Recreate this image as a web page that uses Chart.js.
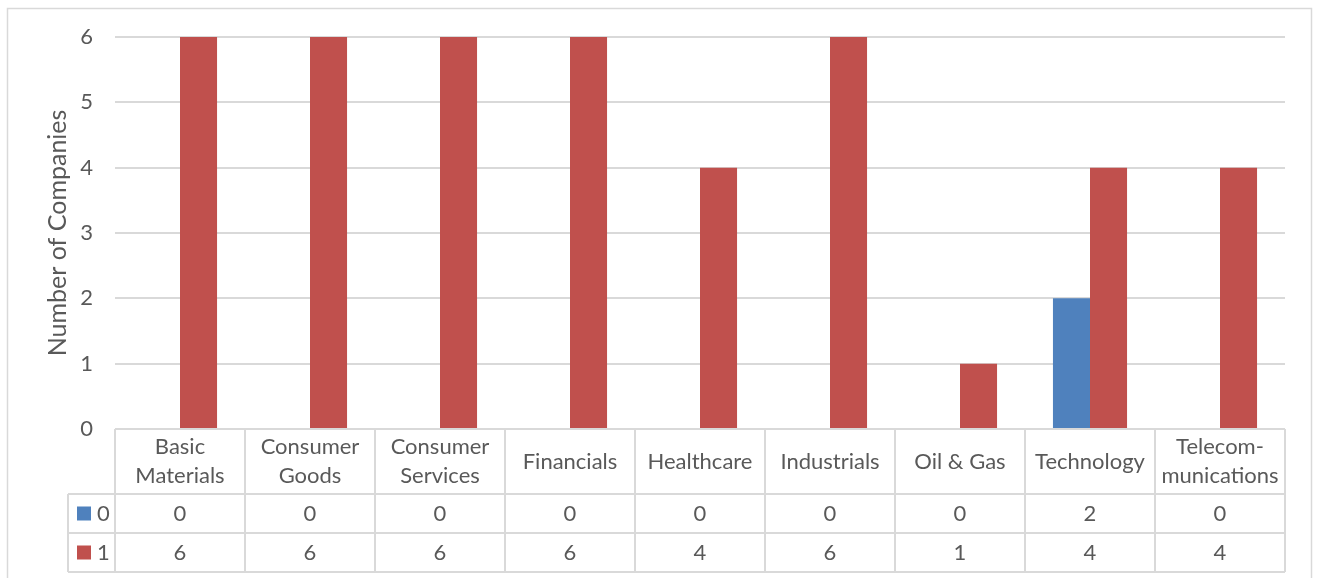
<!DOCTYPE html>
<html>
<head>
<meta charset="utf-8">
<title>Number of Companies by Sector</title>
<script src="https://cdn.jsdelivr.net/npm/chart.js@4.4.1/dist/chart.umd.min.js"></script>
<style>
  html, body { margin: 0; padding: 0; background: #ffffff; }
  #wrap { width: 1319px; height: 578px; position: relative; }
</style>
</head>
<body>
<div id="wrap"><canvas id="chartSectores"></canvas></div>
<script>
/* ============================================================
   Companies per sector — grouped bars + data table underneath
   ============================================================ */

// Header lines for each sector (the table's first row)
const SECTORS = [
  ['Basic', 'Materials'],
  ['Consumer', 'Goods'],
  ['Consumer', 'Services'],
  ['Financials'],
  ['Healthcare'],
  ['Industrials'],
  ['Oil & Gas'],
  ['Technology'],
  ['Telecom-', 'munications'],
];

const SERIES_NAMES = ['0', '1'];
const SERIES_0 = [0, 0, 0, 0, 0, 0, 0, 2, 0];
const SERIES_1 = [6, 6, 6, 6, 4, 6, 1, 4, 4];
const Y_TICKS  = [0, 1, 2, 3, 4, 5, 6];

const COLORS     = ['#4F81BD', '#C0504D'];
const TEXT       = '#595959';
const GRID       = '#D9D9D9';
const FONT       = 'Lato, "Open Sans", sans-serif';
const FONT_SIZE  = 22;
const TITLE_SIZE = 25;

// Table geometry (below the plot)
const TABLE = {
  headerH: 65,
  rowH:    39,
  legendX: 68,
};

// Outer frame + data table drawn around the Chart.js bars
const dataTablePlugin = {
  id: 'dataTable',
  beforeDraw(chart) {
    const c = chart.ctx;
    c.save();
    c.strokeStyle = GRID;
    c.lineWidth = 1.5;
    c.strokeRect(7.5, 8.5, chart.width - 15, chart.height + 20);
    c.restore();
  },
  afterDraw(chart) {
    const c    = chart.ctx;
    const area = chart.chartArea;
    const x    = chart.scales.x;
    const n    = SECTORS.length;
    const colW = (area.right - area.left) / n;
    const top  = area.bottom;
    const r1   = top + TABLE.headerH;
    const r2   = r1 + TABLE.rowH;
    const r3   = r2 + TABLE.rowH;
    const rows = [SERIES_0, SERIES_1];

    c.save();
    c.strokeStyle = GRID;
    c.lineWidth = 2;
    c.beginPath();
    // horizontal lines
    c.moveTo(area.left, top);           c.lineTo(area.right, top);
    c.moveTo(TABLE.legendX, r1);        c.lineTo(area.right, r1);
    c.moveTo(TABLE.legendX, r2);        c.lineTo(area.right, r2);
    c.moveTo(TABLE.legendX, r3);        c.lineTo(area.right, r3);
    // vertical lines
    c.moveTo(TABLE.legendX, r1);        c.lineTo(TABLE.legendX, r3);
    for (let i = 0; i <= n; i++) {
      const px = area.left + i * colW;
      c.moveTo(px, top);
      c.lineTo(px, r3);
    }
    c.stroke();

    c.fillStyle    = TEXT;
    c.font         = `${FONT_SIZE}px ${FONT}`;
    c.textAlign    = 'center';
    c.textBaseline = 'middle';

    // header: sector names
    SECTORS.forEach((lines, i) => {
      const cx = x.getPixelForValue(i);
      const lh = 29;
      const y0 = top + TABLE.headerH / 2 - (lines.length - 1) * lh / 2;
      lines.forEach((t, k) => c.fillText(t, cx, y0 + k * lh));
    });

    // value rows + legend keys
    rows.forEach((vals, r) => {
      const cy = r1 + TABLE.rowH * r + TABLE.rowH / 2;
      c.fillStyle = COLORS[r];
      c.fillRect(TABLE.legendX + 9, cy - 7, 14, 14);
      c.fillStyle = TEXT;
      c.textAlign = 'left';
      c.fillText(SERIES_NAMES[r], TABLE.legendX + 29, cy);
      c.textAlign = 'center';
      vals.forEach((v, i) => c.fillText(String(v), x.getPixelForValue(i), cy));
    });
    c.restore();
  }
};

const ctx = document.getElementById('chartSectores');

new Chart(ctx, {
  type: 'bar',
  data: {
    labels: SECTORS.map(l => l.join(' ')),
    datasets: [
      { label: SERIES_NAMES[0], data: SERIES_0, backgroundColor: COLORS[0] },
      { label: SERIES_NAMES[1], data: SERIES_1, backgroundColor: COLORS[1] },
    ]
  },
  options: {
    responsive:          true,
    maintainAspectRatio: false,
    animation:           false,
    layout: { padding: { left: 7, top: 37, right: 34, bottom: 149 } },
    datasets: {
      bar: { categoryPercentage: 0.57, barPercentage: 1.0 }
    },
    plugins: {
      legend:  { display: false },
      tooltip: { enabled: false },
    },
    scales: {
      x: { display: false },
      y: {
        min: 0,
        max: 6,
        afterBuildTicks(scale) {
          scale.ticks = Y_TICKS.map(v => ({ value: v }));
        },
        // fixed axis width so the plot starts at x = 115
        afterFit(scale) {
          scale.width = 108;
        },
        border: { display: false },
        grid:   { color: GRID, lineWidth: 2, drawTicks: false },
        ticks:  {
          color:   TEXT,
          padding: 22,
          font:    { family: FONT, size: FONT_SIZE },
        },
        title: {
          display: true,
          text:    'Number of Companies',
          color:   TEXT,
          padding: { top: 36, bottom: 0 },
          font:    { family: FONT, size: TITLE_SIZE },
        },
      }
    }
  },
  plugins: [dataTablePlugin]
});
</script>
</body>
</html>
